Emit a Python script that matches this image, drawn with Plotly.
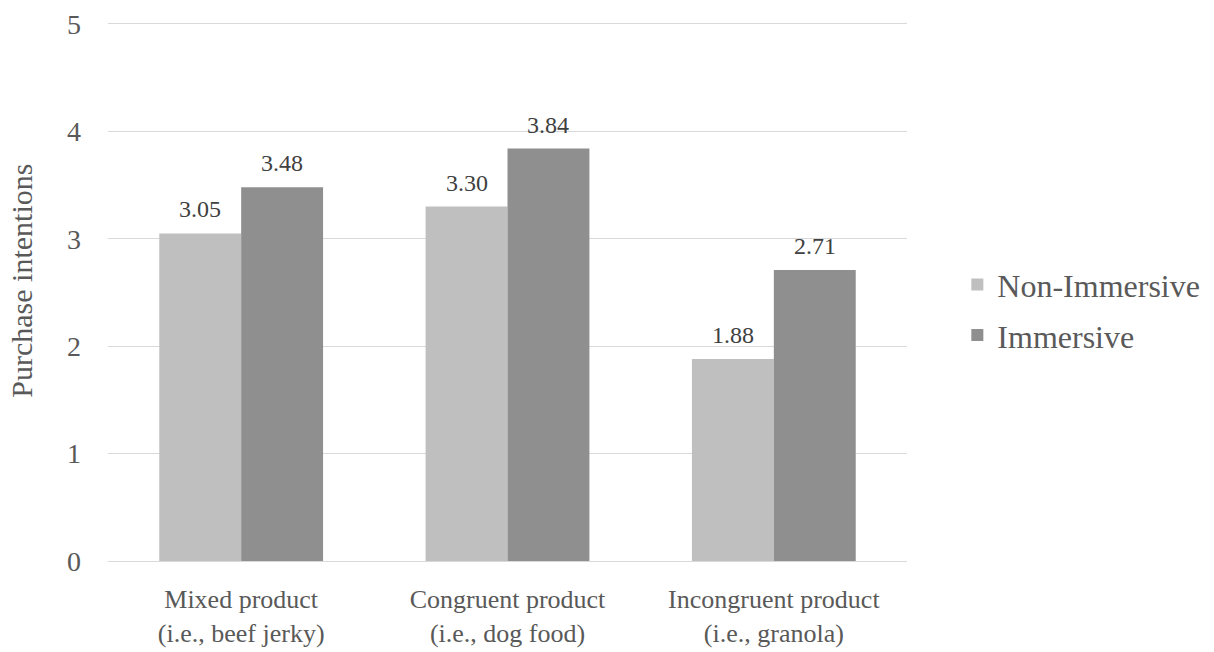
import plotly.graph_objects as go

categories = ["Mixed product<br>(i.e., beef jerky)",
              "Congruent product<br>(i.e., dog food)",
              "Incongruent product<br>(i.e., granola)"]
non_immersive = [3.05, 3.30, 1.88]
immersive = [3.48, 3.84, 2.71]
y_ticks = [0, 1, 2, 3, 4, 5]

FONT = "Liberation Serif"
TEXT_GRAY = "#595959"
LABEL_GRAY = "#404040"
GRID = "#D9D9D9"
BARGAP = 0.385

fig = go.Figure()
fig.add_trace(go.Bar(
    name="Non-Immersive", x=categories, y=non_immersive,
    marker=dict(color="#BFBFBF", line=dict(width=0)),
    legendgroup="a", hoverinfo="y",
))
fig.add_trace(go.Bar(
    name="Immersive", x=categories, y=immersive,
    marker=dict(color="#8F8F8F", line=dict(width=0)),
    legendgroup="b", hoverinfo="y",
))

# value labels above each bar, shifted half a bar width left/right of the category centre
plot_w = 1214 - 108 - 307
bar_px = plot_w / len(categories) * (1 - BARGAP) / 2
for series, sign in ((non_immersive, -1), (immersive, 1)):
    for cat, v in zip(categories, series):
        fig.add_annotation(
            x=cat, y=v, xref="x", yref="y", text=f"{v:.2f}",
            showarrow=False, yanchor="bottom", xanchor="center",
            xshift=sign * bar_px / 2, yshift=9,
            font=dict(family=FONT, size=24, color=LABEL_GRAY),
        )

# y-axis title
fig.add_annotation(
    text="Purchase intentions", textangle=-90, showarrow=False,
    xref="paper", yref="paper", x=-0.1076, y=0.522,
    xanchor="center", yanchor="middle",
    font=dict(family=FONT, size=30, color=TEXT_GRAY),
)

fig.update_layout(
    width=1214, height=652,
    margin=dict(l=108, r=307, t=24, b=91, autoexpand=False),
    paper_bgcolor="white", plot_bgcolor="white",
    barmode="group", bargap=BARGAP, bargroupgap=0,
    font=dict(family=FONT, color=TEXT_GRAY, size=28),
    showlegend=True,
    legend=dict(
        x=1.063, y=0.467, xanchor="left", yanchor="middle",
        font=dict(family=FONT, size=32, color=TEXT_GRAY),
        traceorder="grouped", tracegroupgap=6,
        itemwidth=30, bgcolor="rgba(0,0,0,0)",
    ),
)
fig.update_xaxes(
    showgrid=False, showline=True, mirror=True, linecolor=GRID, linewidth=1,
    ticks="", tickfont=dict(family=FONT, size=26, color=TEXT_GRAY),
    ticklabelstandoff=15, automargin=False,
)
fig.update_yaxes(
    range=[0, 5], tickvals=y_ticks, showgrid=True, gridcolor=GRID,
    gridwidth=1, zeroline=False, showline=False, ticks="",
    tickfont=dict(family=FONT, size=28, color=TEXT_GRAY),
    ticklabelstandoff=26, automargin=False,
)

fig.write_html("out.html")
